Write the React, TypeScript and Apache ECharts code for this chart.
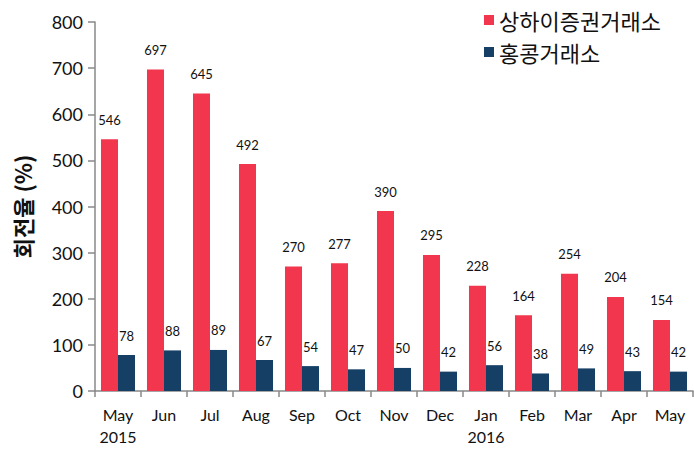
import React, { useEffect, useRef } from "react";
import * as echarts from "echarts";

const categories = ["May\n2015", "Jun", "Jul", "Aug", "Sep", "Oct", "Nov", "Dec", "Jan\n2016", "Feb", "Mar", "Apr", "May"];
const shanghai = [546, 697, 645, 492, 270, 277, 390, 295, 228, 164, 254, 204, 154];
const hongkong = [78, 88, 89, 67, 54, 47, 50, 42, 56, 38, 49, 43, 42];
const seriesNames = ["상하이증권거래소", "홍콩거래소"];
const yAxisName = "회전율 (%)";

const FONT = "Lato, 'Noto Sans', sans-serif";
const KFONT = "'Noto Sans CJK KR', 'Noto Sans', sans-serif";

export default function App() {
  const ref = useRef<HTMLDivElement>(null);
  useEffect(() => {
    if (!ref.current) return;
    const chart = echarts.init(ref.current, undefined, { renderer: "svg" });
    chart.setOption({
      animation: false,
      legend: {
        orient: "vertical",
        left: 479,
        top: 4,
        itemWidth: 10,
        itemHeight: 10,
        itemGap: 10,
        icon: "rect",
        textStyle: { fontFamily: KFONT, fontSize: 22, color: "#111", padding: [0, 0, 0, 0] },
        data: seriesNames,
      },
      grid: { left: 95, right: 1, top: 22, bottom: 58, containLabel: false },
      xAxis: {
        type: "category",
        data: categories,
        axisLine: { lineStyle: { color: "#888", width: 1.5 } },
        axisTick: { show: true, length: 6, lineStyle: { color: "#888", width: 1.5 } },
        axisLabel: { fontFamily: FONT, fontSize: 16, color: "#111", lineHeight: 22, margin: 12, interval: 0 },
      },
      yAxis: {
        type: "value",
        min: 0,
        max: 800,
        interval: 100,
        name: yAxisName,
        nameLocation: "middle",
        nameGap: 62,
        nameRotate: 90,
        nameTextStyle: { fontFamily: KFONT, fontSize: 22, fontWeight: "bold", color: "#111" },
        axisLine: { show: true, lineStyle: { color: "#888", width: 1.5 } },
        axisTick: { show: true, inside: false, length: 7, lineStyle: { color: "#888", width: 1.5 } },
        axisLabel: { fontFamily: FONT, fontSize: 18, color: "#111", margin: 12 },
        splitLine: { show: false },
      },
      series: [
        {
          name: seriesNames[0],
          type: "bar",
          data: shanghai,
          barGap: "0%",
          barCategoryGap: "26%",
          itemStyle: { color: "#f2364d" },
          label: { show: true, position: "top", distance: 13, fontFamily: FONT, fontSize: 13, color: "#111" },
        },
        {
          name: seriesNames[1],
          type: "bar",
          data: hongkong,
          itemStyle: { color: "#163f66" },
          label: { show: true, position: "top", distance: 13, fontFamily: FONT, fontSize: 13, color: "#111" },
        },
      ],
    });
    return () => chart.dispose();
  }, []);
  return <div ref={ref} style={{ width: 694, height: 449, position: "absolute", left: 0, top: 0, background: "#fff" }} />;
}
